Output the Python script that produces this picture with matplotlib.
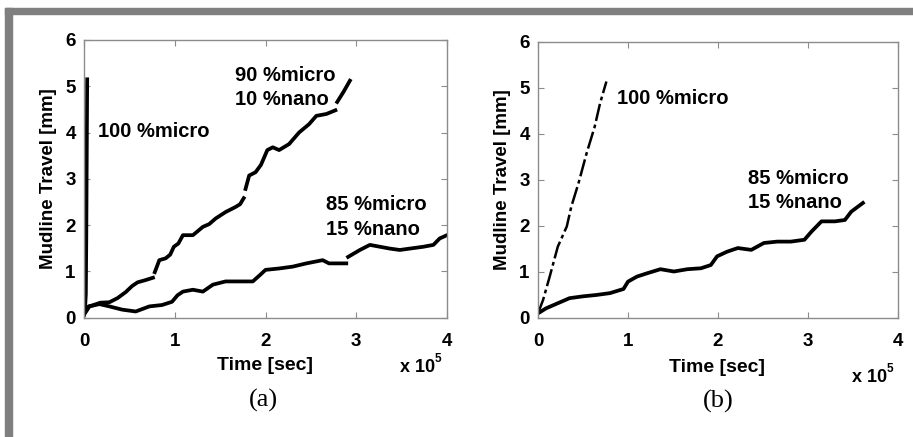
import numpy as np
import matplotlib
matplotlib.use("Agg")
import matplotlib.pyplot as plt
from matplotlib.patches import Rectangle

# ---------------- data (time in units of 1e5 sec, travel in mm) ----------------
# Panel (a)
a_micro100_t = [0.0, 0.01, 0.02, 0.025, 0.03, 0.035]
a_micro100_y = [0.05, 0.15, 0.5, 1.7, 3.5, 5.15]

a_m90_t = [0.0, 0.05, 0.09, 0.18, 0.28, 0.37, 0.46, 0.53, 0.59, 0.68, 0.76, np.nan,
           0.78, 0.83, 0.90, 0.95, 0.99, 1.04, 1.09, 1.20, 1.31, 1.38, 1.45, 1.56, 1.67, 1.72,
           1.76, np.nan,
           1.78, 1.82, 1.89, 1.95, 2.02, 2.08, 2.15, 2.26, 2.37, 2.48, 2.56, 2.67, 2.77, np.nan,
           2.79, 2.86, 2.93]
a_m90_y = [0.10, 0.24, 0.26, 0.32, 0.33, 0.42, 0.55, 0.68, 0.76, 0.81, 0.86, np.nan,
           0.98, 1.24, 1.28, 1.36, 1.53, 1.60, 1.78, 1.78, 1.96, 2.02, 2.14, 2.28, 2.39, 2.45,
           2.58, np.nan,
           2.78, 3.07, 3.14, 3.30, 3.62, 3.68, 3.62, 3.75, 4.00, 4.18, 4.36, 4.40, 4.48, np.nan,
           4.66, 4.88, 5.12]

a_m85_t = [0.0, 0.06, 0.17, 0.28, 0.42, 0.57, 0.72, 0.86, 0.97, 1.03, 1.09, 1.20, 1.31, 1.42,
           1.56, 1.71, 1.86, 1.94, 2.00, 2.15, 2.30, 2.45, 2.63, 2.70, 2.89, np.nan,
           2.91, 3.04, 3.15, 3.26, 3.37, 3.48, 3.59, 3.74, 3.85, 3.92, 4.00]
a_m85_y = [0.06, 0.24, 0.29, 0.24, 0.17, 0.13, 0.24, 0.27, 0.34, 0.48, 0.56, 0.60, 0.56, 0.71,
           0.78, 0.78, 0.78, 0.92, 1.03, 1.06, 1.10, 1.17, 1.24, 1.17, 1.17, np.nan,
           1.31, 1.46, 1.57, 1.53, 1.49, 1.46, 1.49, 1.53, 1.57, 1.71, 1.78]

# Panel (b)
b_micro100_t = [0.0, 0.056, 0.13, 0.22, 0.32, 0.37, 0.45, 0.54, 0.63, 0.69, 0.76]
b_micro100_y = [0.09, 0.38, 0.89, 1.54, 1.98, 2.41, 2.92, 3.57, 4.15, 4.66, 5.13]

b_m85_t = [0.0, 0.09, 0.22, 0.35, 0.50, 0.65, 0.80, 0.95, 1.00, 1.10, 1.21, 1.36, 1.51,
           1.66, 1.81, 1.92, 1.99, 2.10, 2.22, 2.37, 2.51, 2.66, 2.81, 2.96, 3.04, 3.15,
           3.30, 3.41, 3.48, 3.61]
b_m85_y = [0.09, 0.20, 0.31, 0.42, 0.46, 0.49, 0.53, 0.62, 0.78, 0.89, 0.96, 1.05, 1.00,
           1.05, 1.07, 1.14, 1.33, 1.43, 1.51, 1.47, 1.62, 1.65, 1.65, 1.69, 1.87, 2.09,
           2.09, 2.12, 2.30, 2.49]

x_ticks = [0, 1, 2, 3, 4]
y_ticks = [0, 1, 2, 3, 4, 5, 6]

# ---------------- style ----------------
plt.rcParams['font.family'] = ['Liberation Sans', 'DejaVu Sans']
plt.rcParams['font.weight'] = 'bold'

W, H = 913, 437
fig = plt.figure(figsize=(W / 100, H / 100), dpi=100)
fig.patch.set_facecolor('white')

# gray frame (top and left bands)
gray = '#7f7f7f'
fig.patches.append(Rectangle((5 / W, 1 - 14 / H), 1 - 5 / W, 6 / H,
                             transform=fig.transFigure, color=gray, zorder=0))
fig.patches.append(Rectangle((5 / W, 0), 7 / W, 1 - 8 / H,
                             transform=fig.transFigure, color=gray, zorder=0))

def px_axes(l, r, t, b):
    return fig.add_axes([l / W, 1 - b / H, (r - l) / W, (b - t) / H])

ax_a = px_axes(84, 447, 40, 317.5)
ax_b = px_axes(538, 898, 41.5, 317.5)

def style(ax):
    ax.set_xlim(0, 4)
    ax.set_ylim(0, 6)
    ax.set_xticks(x_ticks)
    ax.set_yticks(y_ticks)
    ax.set_xticklabels([str(v) for v in x_ticks])
    ax.set_yticklabels([str(v) for v in y_ticks])
    for s in ax.spines.values():
        s.set_color('#8c8c8c')
        s.set_linewidth(1.0)
    ax.tick_params(direction='in', length=4, width=0.8, color='#8c8c8c',
                   top=True, right=True, labelsize=13.5)
    ax.tick_params(axis='x', pad=11)
    ax.tick_params(axis='y', pad=6)
    for lab in ax.get_xticklabels() + ax.get_yticklabels():
        lab.set_fontweight('bold')
    ax.set_ylabel('Mudline Travel [mm]', fontsize=13.5, fontweight='bold', labelpad=6)

lw = 2.7
# Panel (a)
style(ax_a)
ax_a.plot(a_micro100_t, a_micro100_y, color='black', lw=lw)
ax_a.plot(a_m90_t, a_m90_y, color='black', lw=lw)
ax_a.plot(a_m85_t, a_m85_y, color='black', lw=lw)
tk = dict(fontsize=14.5, fontweight='bold', va='center', ha='left')
ax_a.text(0.15, 4.02, '100 %micro', **tk)
ax_a.text(1.66, 5.24, '90 %micro', **tk)
ax_a.text(1.66, 4.72, '10 %nano', **tk)
ax_a.text(2.67, 2.45, '85 %micro', **tk)
ax_a.text(2.67, 1.90, '15 %nano', **tk)

# Panel (b)
style(ax_b)
ax_b.plot(b_micro100_t, b_micro100_y, color='black', lw=1.8,
          linestyle=(0, (7, 1.5, 1.5, 1.5)))
ax_b.plot(b_m85_t, b_m85_y, color='black', lw=lw)
ax_b.text(0.88, 4.77, '100 %micro', **tk)
ax_b.text(2.33, 3.02, '85 %micro', **tk)
ax_b.text(2.33, 2.49, '15 %nano', **tk)

# x labels, multipliers, panel tags (pixel positions)
def ftext(x, y, s, **kw):
    fig.text(x / W, 1 - y / H, s, **kw)

ftext(265, 366, 'Time [sec]', fontsize=14, fontweight='bold', ha='center', va='center')
ftext(717, 367, 'Time [sec]', fontsize=14, fontweight='bold', ha='center', va='center')
ftext(400, 368, 'x 10', fontsize=13, fontweight='bold', ha='left', va='center')
ftext(435, 359, '5', fontsize=8.5, fontweight='bold', ha='left', va='center')
ftext(852, 378, 'x 10', fontsize=13, fontweight='bold', ha='left', va='center')
ftext(887, 369, '5', fontsize=8.5, fontweight='bold', ha='left', va='center')
ftext(263, 400, '(a)', fontsize=19, fontweight='normal', ha='center', va='center',
      family=['Liberation Serif', 'DejaVu Serif'])
ftext(718, 401, '(b)', fontsize=19, fontweight='normal', ha='center', va='center',
      family=['Liberation Serif', 'DejaVu Serif'])

fig.savefig('out.png', dpi=100, facecolor='white')
